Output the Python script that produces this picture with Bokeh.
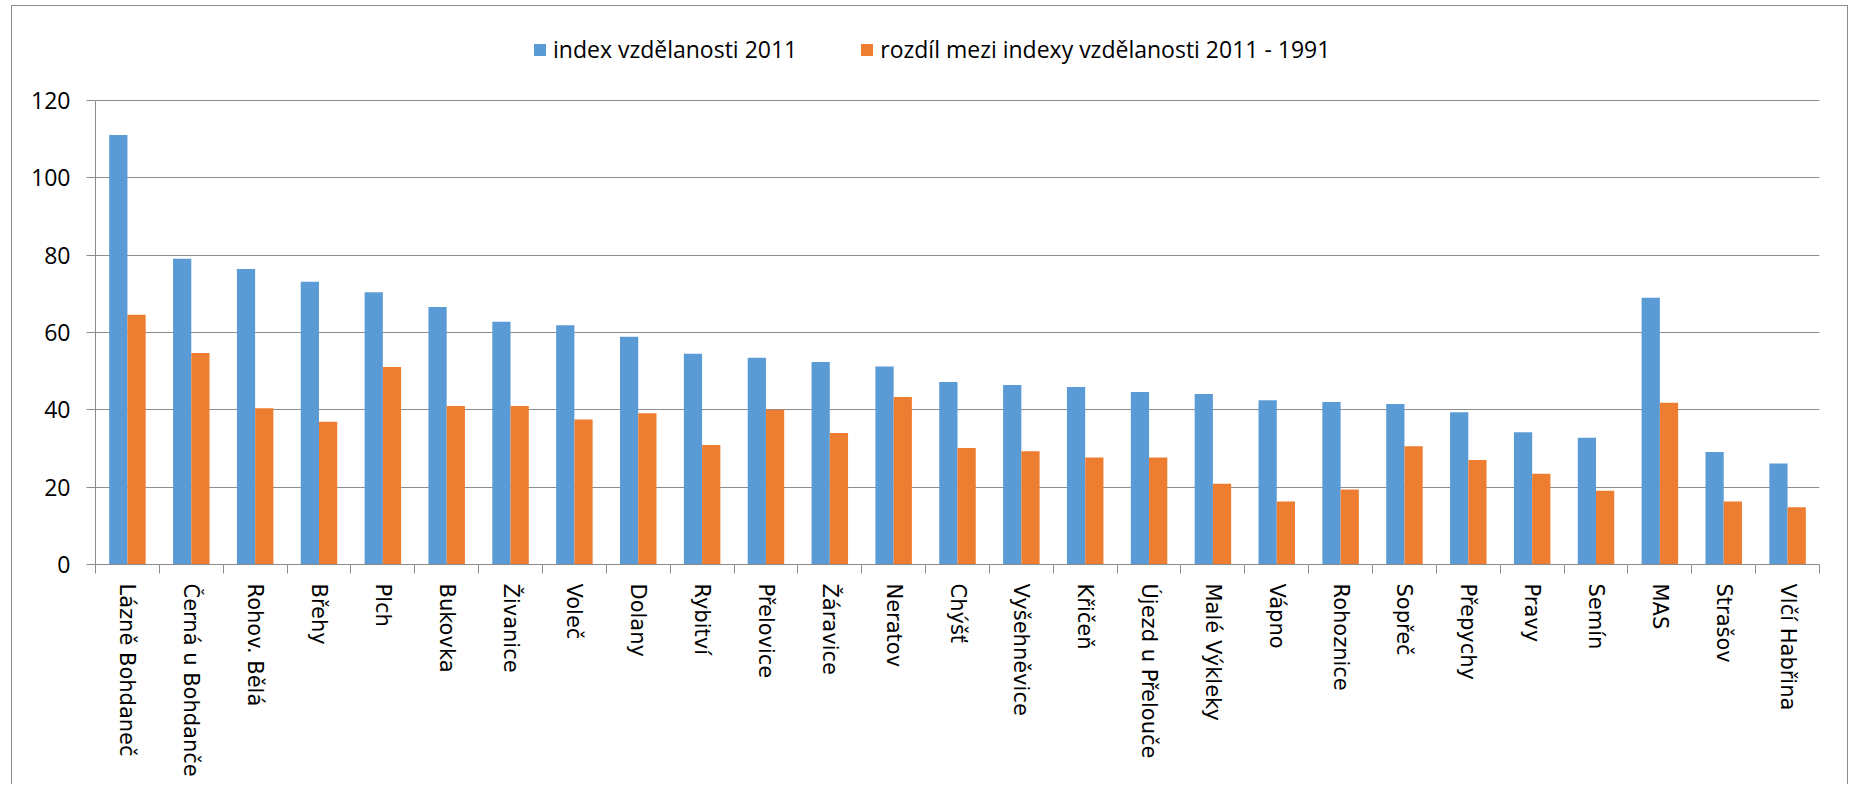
from bokeh.plotting import figure
from bokeh.models import ColumnDataSource, FixedTicker, Legend, LegendItem
from bokeh.transform import dodge
from bokeh.embed import file_html
from bokeh.resources import INLINE

categories = ["Lázně Bohdaneč", "Černá u Bohdanče", "Rohov. Bělá", "Břehy", "Plch",
              "Bukovka", "Živanice", "Voleč", "Dolany", "Rybitví", "Přelovice",
              "Žáravice", "Neratov", "Chýšť", "Vyšehněvice", "Křičeň",
              "Újezd u Přelouče", "Malé Výkleky", "Vápno", "Rohoznice", "Sopřeč",
              "Přepychy", "Pravy", "Semín", "MAS", "Strašov", "Vlčí Habřina"]
index_2011 = [111.1, 79.1, 76.4, 73.1, 70.4, 66.6, 62.8, 61.9, 58.9, 54.5, 53.5,
              52.4, 51.2, 47.2, 46.4, 45.9, 44.6, 44.1, 42.5, 42.0, 41.5, 39.4,
              34.2, 32.8, 69.0, 29.1, 26.1]
diff_2011_1991 = [64.6, 54.7, 40.4, 36.9, 51.1, 41.0, 41.0, 37.5, 39.1, 30.9, 40.0,
                  34.0, 43.3, 30.1, 29.3, 27.7, 27.7, 20.9, 16.3, 19.4, 30.6, 27.0,
                  23.5, 19.1, 41.8, 16.3, 14.8]
y_ticks = [0, 20, 40, 60, 80, 100, 120]
series_labels = ["index vzdělanosti 2011", "rozdíl mezi indexy vzdělanosti 2011 - 1991"]

BLUE = "#5B9BD5"
ORANGE = "#ED7D31"
GRID = "#8c8c8c"

AXIS_MAX = 120
FRAME_H = 539          # frame extends above 120 to hold the legend
PLOT_H = 464           # pixels for 0..120
positions = list(range(len(categories)))
source = ColumnDataSource(dict(pos=positions, cat=categories, a=index_2011, b=diff_2011_1991))

p = figure(frame_width=1724, frame_height=FRAME_H,
           x_range=(-0.5, len(categories) - 0.5),
           y_range=(0, AXIS_MAX * FRAME_H / PLOT_H),
           min_border_left=83, min_border_right=28, min_border_top=19, min_border_bottom=220,
           output_backend="svg", toolbar_location=None, background_fill_color="white",
           border_fill_color="white")
p.styles = {"margin-left": "11px", "margin-top": "5px",
            "border-top": "1px solid #8a8a8a", "border-left": "1px solid #8a8a8a",
            "border-right": "1px solid #8a8a8a"}

bw = 1 / 3.5
r1 = p.vbar(x=dodge("pos", -bw / 2), top="a", width=bw, source=source,
            fill_color=BLUE, line_color=None)
r2 = p.vbar(x=dodge("pos", bw / 2), top="b", width=bw, source=source,
            fill_color=ORANGE, line_color=None)

p.outline_line_color = None
p.xgrid.grid_line_color = None
p.ygrid.grid_line_color = GRID
p.ygrid.grid_line_width = 1

# x axis
xa = p.xaxis[0]
xa.ticker = FixedTicker(ticks=positions, minor_ticks=[i - 0.5 for i in range(len(categories) + 1)])
xa.major_label_overrides = {i: c for i, c in enumerate(categories)}
xa.major_label_orientation = "vertical"
xa.major_tick_out = 0
xa.major_tick_in = 0
xa.minor_tick_out = 9
xa.minor_tick_in = 0
xa.minor_tick_line_color = GRID
xa.axis_line_color = GRID
xa.major_label_standoff = 10
xa.major_label_text_font = "'DejaVu Sans', Verdana, sans-serif"
xa.major_label_text_font_size = "21px"
xa.major_label_text_color = "black"

# y axis
ya = p.yaxis[0]
ya.ticker = FixedTicker(ticks=y_ticks)
ya.bounds = (0, AXIS_MAX)
ya.minor_tick_line_color = None
ya.major_tick_out = 9
ya.major_tick_in = 0
ya.major_tick_line_color = GRID
ya.axis_line_color = GRID
ya.major_label_standoff = 16
ya.major_label_text_font = "Open Sans"
ya.major_label_text_font_size = "23px"
ya.major_label_text_color = "black"

legend = Legend(items=[LegendItem(label=series_labels[0], renderers=[r1]),
                       LegendItem(label=series_labels[1], renderers=[r2])],
                orientation="horizontal", location=(437, 499),
                glyph_width=15, glyph_height=15, label_standoff=6, spacing=62,
                padding=0, margin=0, border_line_color=None,
                background_fill_alpha=0, label_text_font="Open Sans",
                label_text_font_size="23px", label_text_color="black")
p.add_layout(legend, "center")

open("out.html", "w").write(file_html(p, INLINE))
